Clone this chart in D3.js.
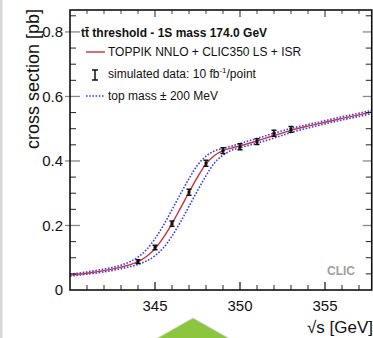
<!DOCTYPE html>
<meta charset="utf-8">
<head>
  <script src="https://d3js.org/d3.v7.min.js"></script>
  <style>
    html, body { margin: 0; padding: 0; background: #fff; }
    svg { display: block; font-family: "Liberation Sans", Arial, Helvetica, sans-serif; }
  </style>
</head>
<body>
<svg id="chart" width="373" height="338"></svg>
<script>
  // sqrt(s) grid for the curves [GeV]
  const energies = [340, 341, 342, 343, 343.5, 344, 344.5, 345, 345.5, 346, 346.5, 347, 347.5,
    348, 348.5, 349, 349.5, 350, 351, 352, 353, 354, 355, 356, 357, 358]
  // TOPPIK NNLO + CLIC350 LS + ISR, m = 174.0 GeV
  const sigmaNominal = [0.046, 0.052, 0.060, 0.071, 0.078, 0.088, 0.104, 0.128, 0.163, 0.206, 0.254, 0.303, 0.350,
    0.391, 0.417, 0.432, 0.440, 0.447, 0.462, 0.479, 0.495, 0.508, 0.520, 0.532, 0.543, 0.555]
  // top mass - 200 MeV
  const sigmaMassDown = [0.049, 0.056, 0.065, 0.077, 0.087, 0.102, 0.125, 0.159, 0.201, 0.249, 0.298, 0.345, 0.387,
    0.415, 0.431, 0.439, 0.446, 0.454, 0.470, 0.486, 0.501, 0.513, 0.525, 0.537, 0.548, 0.560]
  // top mass + 200 MeV
  const sigmaMassUp = [0.043, 0.049, 0.056, 0.066, 0.072, 0.079, 0.090, 0.106, 0.131, 0.167, 0.211, 0.259, 0.308,
    0.354, 0.394, 0.418, 0.433, 0.441, 0.455, 0.471, 0.488, 0.502, 0.515, 0.527, 0.538, 0.550]

  // simulated data, 10 fb^-1 per point
  const dataEnergies = [344, 345, 346, 347, 348, 349, 350, 351, 352, 353]
  const dataSigma = [0.088, 0.132, 0.206, 0.303, 0.393, 0.432, 0.444, 0.460, 0.486, 0.498]
  const dataErr = [0.006, 0.007, 0.008, 0.009, 0.009, 0.009, 0.009, 0.009, 0.009, 0.009]

  const xTicks = [345, 350, 355]
  const yTicks = [0, 0.2, 0.4, 0.6, 0.8]

  const svg = d3.select("#chart")

  const pLeft = 70, pRight = 371.75, pTop = 10, pBottom = 290

  const x = d3.scaleLinear().domain([340, 357.75]).range([pLeft, pRight])
  const y = d3.scaleLinear().domain([0, 0.868]).range([pBottom, pTop])

  // page decoration
  svg.append("rect").attr("x", 0).attr("y", 0).attr("width", 2.5).attr("height", 338).attr("fill", "#d8d8d8")
  svg.append("path")
    .attr("d", "M193,318 L140,348 L246,348 Z")
    .attr("fill", "#8cc63e").attr("stroke", "#d0d0d0").attr("stroke-width", 1)

  const clip = svg.append("clipPath").attr("id", "plotclip")
  clip.append("rect").attr("x", pLeft).attr("y", pTop).attr("width", pRight - pLeft).attr("height", pBottom - pTop)

  const plot = svg.append("g").attr("clip-path", "url(#plotclip)")

  const line = (vals) => d3.line()
    .x((d, i) => x(energies[i]))
    .y(d => y(d))
    .curve(d3.curveMonotoneX)(vals)

  plot.append("path").attr("d", line(sigmaMassDown))
    .attr("fill", "none").attr("stroke", "#3a3cff").attr("stroke-width", 1.6).attr("stroke-dasharray", "1.6,1.6")
  plot.append("path").attr("d", line(sigmaMassUp))
    .attr("fill", "none").attr("stroke", "#3a3cff").attr("stroke-width", 1.6).attr("stroke-dasharray", "1.6,1.6")
  plot.append("path").attr("d", line(sigmaNominal))
    .attr("fill", "none").attr("stroke", "#c8323a").attr("stroke-width", 1.4)

  // data points with error bars
  const pts = plot.append("g").attr("stroke", "#111").attr("stroke-width", 1.5)
  dataEnergies.forEach((e, i) => {
    const cx = x(e), y1 = y(dataSigma[i] - dataErr[i]), y2 = y(dataSigma[i] + dataErr[i])
    pts.append("line").attr("x1", cx).attr("x2", cx).attr("y1", y1).attr("y2", y2)
    pts.append("line").attr("x1", cx - 2.5).attr("x2", cx + 2.5).attr("y1", y1).attr("y2", y1)
    pts.append("line").attr("x1", cx - 2.5).attr("x2", cx + 2.5).attr("y1", y2).attr("y2", y2)
    pts.append("rect").attr("x", cx - 1.5).attr("y", y(dataSigma[i]) - 1.5).attr("width", 3).attr("height", 3)
      .attr("fill", "#111").attr("stroke", "none")
  })

  // frame and ticks
  const axes = svg.append("g")
  const xMinor = d3.range(341, 358, 1).filter(v => !xTicks.includes(v))
  const yMinor = d3.range(0.05, 0.86, 0.05).filter(v => !yTicks.some(t => Math.abs(t - v) < 1e-6))

  xMinor.forEach(v => {
    axes.append("line").attr("x1", x(v)).attr("x2", x(v)).attr("y1", pBottom).attr("y2", pBottom - 5).attr("stroke", "#222")
    axes.append("line").attr("x1", x(v)).attr("x2", x(v)).attr("y1", pTop).attr("y2", pTop + 4).attr("stroke", "#444")
  })
  xTicks.forEach(v => {
    axes.append("line").attr("x1", x(v)).attr("x2", x(v)).attr("y1", pBottom).attr("y2", pBottom - 8).attr("stroke", "#222").attr("stroke-width", 1.3)
    axes.append("line").attr("x1", x(v)).attr("x2", x(v)).attr("y1", pTop).attr("y2", pTop + 7).attr("stroke", "#555").attr("stroke-width", 1.3)
  })
  yMinor.forEach(v => {
    axes.append("line").attr("x1", pLeft).attr("x2", pLeft + 6).attr("y1", y(v)).attr("y2", y(v)).attr("stroke", "#222")
    axes.append("line").attr("x1", pRight).attr("x2", pRight - 6).attr("y1", y(v)).attr("y2", y(v)).attr("stroke", "#222")
  })
  yTicks.forEach(v => {
    if (v === 0) return
    axes.append("line").attr("x1", pLeft - 5).attr("x2", pLeft + 10).attr("y1", y(v)).attr("y2", y(v)).attr("stroke", "#888").attr("stroke-width", 1.3)
    axes.append("line").attr("x1", pRight).attr("x2", pRight - 9).attr("y1", y(v)).attr("y2", y(v)).attr("stroke", "#888").attr("stroke-width", 1.3)
  })

  axes.append("rect").attr("x", pLeft).attr("y", pTop).attr("width", pRight - pLeft).attr("height", pBottom - pTop)
    .attr("fill", "none").attr("stroke", "#111").attr("stroke-width", 1.6)

  // tick labels
  const yFmt = v => v === 0 ? "0" : d3.format(".1f")(v)
  svg.append("g").selectAll("text").data(yTicks).join("text")
    .attr("x", 63).attr("y", d => y(d)).attr("dy", "0.36em")
    .attr("text-anchor", "end").attr("font-size", 15).attr("fill", "#111")
    .text(yFmt)
  svg.append("g").selectAll("text").data(xTicks).join("text")
    .attr("x", d => x(d)).attr("y", 311)
    .attr("text-anchor", "middle").attr("font-size", 15).attr("fill", "#111")
    .text(d => d)

  // axis titles
  svg.append("text")
    .attr("transform", "translate(39,79) rotate(-90)")
    .attr("text-anchor", "middle").attr("font-size", 18).attr("fill", "#111")
    .text("cross section [pb]")
  svg.append("text")
    .attr("x", 373).attr("y", 333)
    .attr("text-anchor", "end").attr("font-size", 17).attr("fill", "#111")
    .text("\u221As [GeV]")

  svg.append("text")
    .attr("x", 355).attr("y", 275)
    .attr("text-anchor", "end").attr("font-size", 12).attr("font-weight", "bold").attr("fill", "#a0a0a0")
    .text("CLIC")

  // legend
  const lg = svg.append("g").attr("font-size", 12).attr("fill", "#111")
  lg.append("text").attr("x", 81).attr("y", 37).attr("font-weight", "bold").text("t\u0074\u0304 threshold - 1S mass 174.0 GeV")

  lg.append("line").attr("x1", 86).attr("x2", 105).attr("y1", 52).attr("y2", 52).attr("stroke", "#c8323a").attr("stroke-width", 1.4)
  lg.append("text").attr("x", 108).attr("y", 56).text("TOPPIK NNLO + CLIC350 LS + ISR")

  const ly1 = 70, ly2 = 80, lx = 95
  lg.append("line").attr("x1", lx).attr("x2", lx).attr("y1", ly1).attr("y2", ly2).attr("stroke", "#111").attr("stroke-width", 1.5)
  lg.append("line").attr("x1", lx - 3).attr("x2", lx + 3).attr("y1", ly1).attr("y2", ly1).attr("stroke", "#111").attr("stroke-width", 1.5)
  lg.append("line").attr("x1", lx - 3).attr("x2", lx + 3).attr("y1", ly2).attr("y2", ly2).attr("stroke", "#111").attr("stroke-width", 1.5)
  const t3 = lg.append("text").attr("x", 108).attr("y", 78)
  t3.append("tspan").text("simulated data: 10 fb")
  t3.append("tspan").attr("font-size", 8).attr("dy", -5).text("-1")
  t3.append("tspan").attr("dy", 5).text("/point")

  lg.append("line").attr("x1", 86).attr("x2", 105).attr("y1", 96).attr("y2", 96)
    .attr("stroke", "#3a3cff").attr("stroke-width", 1.3).attr("stroke-dasharray", "1.6,1.6")
  lg.append("text").attr("x", 108).attr("y", 100).text("top mass \u00B1 200 MeV")
</script>
</body>
